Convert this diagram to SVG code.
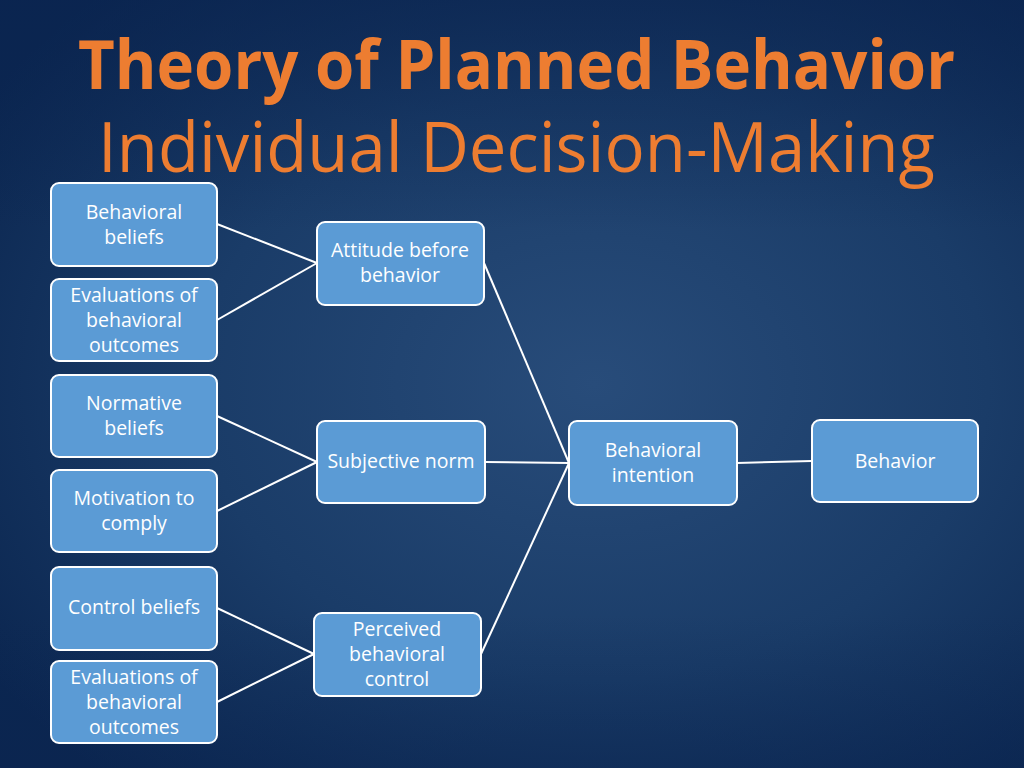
<svg xmlns="http://www.w3.org/2000/svg" width="1024" height="768" viewBox="0 0 1024 768">
<defs>
<radialGradient id="bg" cx="0.58" cy="0.5" r="0.7">
<stop offset="0" stop-color="#284c7a"/>
<stop offset="0.55" stop-color="#1a3c68"/>
<stop offset="1" stop-color="#0b2650"/>
</radialGradient>
<linearGradient id="shade" x1="0" y1="0" x2="0" y2="1">
<stop offset="0" stop-color="#0a2450" stop-opacity="0.6"/>
<stop offset="0.3" stop-color="#0a2450" stop-opacity="0"/>
<stop offset="0.8" stop-color="#0a2450" stop-opacity="0"/>
<stop offset="1" stop-color="#0a2450" stop-opacity="0.4"/>
</linearGradient>
<style>
.node rect{fill:#5b9bd5;stroke:#ffffff;stroke-width:2}
.node text{fill:#ffffff;font-family:"Open Sans","Liberation Sans",sans-serif;font-size:19.5px;text-anchor:middle}
.conn line{stroke:#ffffff;stroke-width:2}
.title{fill:#ed7d31;font-family:"Open Sans","Liberation Sans",sans-serif}
</style>
</defs>
<rect width="1024" height="768" fill="url(#bg)"/>
<rect width="1024" height="768" fill="url(#shade)"/>
<text class="title" x="78" y="89" font-size="68" font-weight="bold" textLength="877" lengthAdjust="spacingAndGlyphs">Theory of Planned Behavior</text>
<text class="title" x="98" y="172" font-size="70" textLength="837" lengthAdjust="spacingAndGlyphs">Individual Decision-Making</text>
<g class="conn" id="connectors">
<line x1="217" y1="224" x2="317" y2="263"/>
<line x1="217" y1="320" x2="317" y2="263"/>
<line x1="217" y1="416" x2="317" y2="462"/>
<line x1="217" y1="511" x2="317" y2="462"/>
<line x1="217" y1="608" x2="314" y2="654"/>
<line x1="217" y1="702" x2="314" y2="654"/>
<line x1="484" y1="263" x2="569" y2="463"/>
<line x1="485" y1="462" x2="569" y2="463"/>
<line x1="481" y1="654" x2="569" y2="463"/>
<line x1="737" y1="463" x2="812" y2="461"/>
</g>
<g class="node" id="behavioral-beliefs"><rect x="51" y="183" width="166" height="83" rx="8"/><text x="134" y="219">Behavioral</text><text x="134" y="244">beliefs</text></g>
<g class="node" id="evaluations-1"><rect x="51" y="279" width="166" height="82" rx="8"/><text x="134" y="302">Evaluations of</text><text x="134" y="327">behavioral</text><text x="134" y="352">outcomes</text></g>
<g class="node" id="normative-beliefs"><rect x="51" y="375" width="166" height="82" rx="8"/><text x="134" y="410">Normative</text><text x="134" y="435">beliefs</text></g>
<g class="node" id="motivation"><rect x="51" y="470" width="166" height="82" rx="8"/><text x="134" y="505">Motivation to</text><text x="134" y="530">comply</text></g>
<g class="node" id="control-beliefs"><rect x="51" y="567" width="166" height="83" rx="8"/><text x="134" y="614">Control beliefs</text></g>
<g class="node" id="evaluations-2"><rect x="51" y="661" width="166" height="82" rx="8"/><text x="134" y="684">Evaluations of</text><text x="134" y="709">behavioral</text><text x="134" y="734">outcomes</text></g>
<g class="node" id="attitude"><rect x="317" y="222" width="167" height="83" rx="8"/><text x="400" y="257">Attitude before</text><text x="400" y="282">behavior</text></g>
<g class="node" id="subjective-norm"><rect x="317" y="421" width="168" height="82" rx="8"/><text x="401" y="468">Subjective norm</text></g>
<g class="node" id="perceived-control"><rect x="314" y="613" width="167" height="83" rx="8"/><text x="397" y="636">Perceived</text><text x="397" y="661">behavioral</text><text x="397" y="686">control</text></g>
<g class="node" id="intention"><rect x="569" y="421" width="168" height="84" rx="8"/><text x="653" y="457">Behavioral</text><text x="653" y="482">intention</text></g>
<g class="node" id="behavior"><rect x="812" y="420" width="166" height="82" rx="8"/><text x="895" y="468">Behavior</text></g>
</svg>
